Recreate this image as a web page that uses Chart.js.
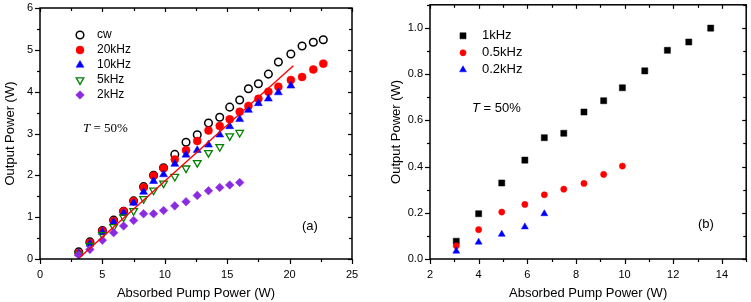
<!DOCTYPE html>
<html>
<head>
<meta charset="utf-8">
<script src="https://cdn.jsdelivr.net/npm/chart.js@4.4.1/dist/chart.umd.min.js"></script>
<style>
  body { margin: 0; background: #fff; }
  #boxA { position: absolute; left: 0; top: 0; width: 385px; height: 302px; }
  #boxB { position: absolute; left: 385px; top: 0; width: 366px; height: 302px; }
</style>
</head>
<body>
<div id="boxA"><canvas id="grafA" width="385" height="302"></canvas></div>
<div id="boxB"><canvas id="grafB" width="366" height="302"></canvas></div>
<script>
// panel (a): absorbed pump power and output power for each repetition rate
const pumpA = [3.1, 4.0, 5.0, 5.9, 6.7, 7.5, 8.3, 9.1, 9.9, 10.8, 11.7, 12.6, 13.5, 14.4, 15.2, 16.0, 16.7, 17.5, 18.3, 19.1, 20.1, 21.0, 21.9, 22.7];
const cwA = [0.17, 0.41, 0.68, 0.93, 1.14, 1.39, 1.73, 2.00, 2.18, 2.50, 2.79, 2.97, 3.25, 3.39, 3.63, 3.80, 4.07, 4.19, 4.42, 4.71, 4.90, 5.09, 5.18, 5.24];
const k20A = [0.14, 0.39, 0.67, 0.91, 1.14, 1.38, 1.71, 1.99, 2.17, 2.38, 2.60, 2.82, 3.07, 3.18, 3.34, 3.52, 3.66, 3.83, 4.00, 4.12, 4.28, 4.35, 4.53, 4.67];
const k10A = [0.13, 0.36, 0.64, 0.88, 1.10, 1.34, 1.60, 1.86, 2.02, 2.27, 2.49, 2.60, 2.73, 2.97, 3.17, 3.34, 3.56, 3.72, 3.83, 3.98, 4.14];
const k5A = [0.11, 0.32, 0.58, 0.77, 1.00, 1.15, 1.44, 1.64, 1.81, 1.97, 2.17, 2.30, 2.54, 2.68, 2.94, 3.02];
const k2A = [0.10, 0.23, 0.45, 0.63, 0.79, 0.92, 1.08, 1.08, 1.16, 1.27, 1.37, 1.52, 1.63, 1.71, 1.77, 1.83];
const fitX = [3.2, 20.3];
const fitY = [0.04, 4.62];
const xTicksA = [0, 5, 10, 15, 20, 25];
const yTicksA = [0, 1, 2, 3, 4, 5, 6];

// panel (b): low repetition rates
const pumpB = [3.08, 4.0, 4.95, 5.9, 6.7, 7.5, 8.33, 9.14, 9.91, 10.83, 11.76, 12.64, 13.54];
const k1B = [0.077, 0.196, 0.329, 0.428, 0.525, 0.544, 0.636, 0.685, 0.741, 0.814, 0.903, 0.939, 0.999];
const k05B = [0.057, 0.127, 0.203, 0.236, 0.278, 0.302, 0.327, 0.366, 0.402];
const k02B = [0.034, 0.073, 0.107, 0.139, 0.196];
const xTicksB = [2, 4, 6, 8, 10, 12, 14];
const yTicksB = [0, 0.2, 0.4, 0.6, 0.8, 1.0];

const sans = "'Liberation Sans', Arial, sans-serif";
const serif = "'Liberation Serif', 'Times New Roman', serif";

function punti(xs, ys) {
  return ys.map((y, i) => ({ x: xs[i], y: y }));
}

// box around the plot with ticks on all four sides
const cornice = {
  id: 'cornice',
  afterDatasetsDraw(chart, args, o) {
    const { ctx, chartArea: a, scales: { x, y } } = chart;
    ctx.save();
    ctx.strokeStyle = '#000';
    ctx.lineWidth = 1.2;
    const seg = (x1, y1, x2, y2) => { ctx.beginPath(); ctx.moveTo(x1, y1); ctx.lineTo(x2, y2); ctx.stroke(); };
    const n = Math.round((x.max - x.min) / o.xMinor);
    for (let i = 0; i <= n; i++) {
      const v = x.min + i * o.xMinor;
      const px = Math.round(x.getPixelForValue(v)) + 0.5;
      const big = Math.abs(v / o.xMajor - Math.round(v / o.xMajor)) < 1e-6;
      seg(px, a.bottom, px, a.bottom + (big ? 5 : 3));
      seg(px, a.top, px, a.top + (big ? 4 : 3));
    }
    const m = Math.round((y.max - y.min) / o.yMinor);
    for (let i = 0; i <= m; i++) {
      const v = y.min + i * o.yMinor;
      const py = Math.round(y.getPixelForValue(v)) + 0.5;
      const big = Math.abs(v / o.yMajor - Math.round(v / o.yMajor)) < 1e-6;
      seg(a.left, py, a.left - (big ? 5 : 3), py);
      seg(a.right, py, a.right - (big ? 4 : 3), py);
    }
    ctx.lineWidth = 1.5;
    ctx.strokeRect(a.left, a.top, a.right - a.left, a.bottom - a.top);
    ctx.restore();
  }
};

// legend and notes inside the plot
const note = {
  id: 'note',
  afterDraw(chart, args, o) {
    const { ctx, chartArea: a } = chart;
    ctx.save();
    let row = 0;
    chart.data.datasets.forEach(ds => {
      if (ds.nolegend) return;
      const yy = a.top + o.legTop + row * o.legStep;
      const xx = a.left + o.legX;
      ctx.fillStyle = ds.backgroundColor;
      ctx.strokeStyle = ds.borderColor;
      ctx.lineWidth = ds.borderWidth;
      Chart.helpers.drawPoint(ctx, { pointStyle: ds.pointStyle, rotation: ds.pointRotation || 0, radius: ds.pointRadius, borderWidth: ds.borderWidth }, xx, yy);
      ctx.fillStyle = '#000';
      ctx.font = o.legFont;
      ctx.textBaseline = 'middle';
      ctx.textAlign = 'left';
      ctx.fillText(ds.label, xx + o.legText, yy);
      row++;
    });
    // T = 50%
    ctx.textBaseline = 'middle';
    ctx.fillStyle = '#000';
    let tx = a.left + o.tX;
    const ty = a.top + o.tY;
    ctx.font = 'italic ' + o.tFont;
    ctx.fillText('T', tx, ty);
    tx += ctx.measureText('T').width;
    ctx.font = o.tFont;
    ctx.fillText(' = 50%', tx, ty);
    ctx.font = '13px ' + sans;
    ctx.fillText(o.tag, a.left + o.tagX, a.top + o.tagY);
    ctx.restore();
  }
};

function assi(xmin, xmax, xt, ymin, ymax, yt, ywidth, ytitlePad, fmt) {
  return {
    x: {
      type: 'linear', min: xmin, max: xmax,
      grid: { display: false, drawTicks: false }, border: { display: false },
      afterBuildTicks: s => { s.ticks = xt.map(v => ({ value: v })); },
      afterFit: s => { s.height = 43; s.paddingLeft = 0; s.paddingRight = 0; },
      ticks: { color: '#000', padding: 9, font: { family: sans, size: 11 } },
      title: { display: true, text: 'Absorbed Pump Power (W)', color: '#000', font: { family: sans, size: 13 }, padding: { top: 0, bottom: 1 } }
    },
    y: {
      type: 'linear', min: ymin, max: ymax,
      grid: { display: false, drawTicks: false }, border: { display: false },
      afterBuildTicks: s => { s.ticks = yt.map(v => ({ value: v })); },
      afterFit: s => { s.width = ywidth; s.paddingTop = 0; s.paddingBottom = 0; },
      ticks: { color: '#000', padding: 7, font: { family: sans, size: 11 }, callback: fmt },
      title: { display: true, text: 'Output Power (W)', color: '#000', font: { family: sans, size: 13 }, padding: { top: ytitlePad, bottom: 0 } }
    }
  };
}

new Chart(document.getElementById('grafA').getContext('2d'), {
  type: 'scatter',
  data: {
    datasets: [
      { label: 'cw', data: punti(pumpA, cwA), pointStyle: 'circle', pointRadius: 3.8, borderWidth: 1.5, borderColor: '#000', backgroundColor: 'rgba(255,255,255,0)', order: 5 },
      { label: '20kHz', data: punti(pumpA, k20A), pointStyle: 'circle', pointRadius: 4, borderWidth: 0.5, borderColor: '#ff0000', backgroundColor: '#ff0000', order: 4 },
      { label: '10kHz', data: punti(pumpA, k10A), pointStyle: 'triangle', pointRadius: 4.6, borderWidth: 0.5, borderColor: '#0000ff', backgroundColor: '#0000ff', order: 3 },
      { label: '5kHz', data: punti(pumpA, k5A), pointStyle: 'triangle', pointRotation: 180, pointRadius: 4.4, borderWidth: 1.3, borderColor: '#008000', backgroundColor: 'rgba(255,255,255,0)', order: 2 },
      { label: '2kHz', data: punti(pumpA, k2A), pointStyle: 'rectRot', pointRadius: 4.3, borderWidth: 0.5, borderColor: '#8a2be2', backgroundColor: '#8a2be2', order: 1 },
      { label: 'fit', nolegend: true, type: 'line', data: punti(fitX, fitY), pointRadius: 0, borderWidth: 1.4, borderColor: '#ff0000', backgroundColor: '#ff0000', order: 0 }
    ]
  },
  options: {
    responsive: false, animation: false, devicePixelRatio: 1,
    layout: { padding: { left: 0, top: 8, right: 33, bottom: 0 } },
    scales: assi(0, 25, xTicksA, 0, 6, yTicksA, 40, 2.2, v => v),
    plugins: {
      legend: { display: false }, tooltip: { enabled: false },
      cornice: { xMinor: 2.5, xMajor: 5, yMinor: 0.5, yMajor: 1 },
      note: { legX: 40, legTop: 27, legStep: 15, legText: 17, legFont: '12px ' + sans,
              tX: 43, tY: 121, tFont: '13px ' + serif, tag: '(a)', tagX: 262, tagY: 218 }
    }
  },
  plugins: [cornice, note]
});

new Chart(document.getElementById('grafB').getContext('2d'), {
  type: 'scatter',
  data: {
    datasets: [
      { label: '1kHz', data: punti(pumpB, k1B), pointStyle: 'rect', pointRadius: 4.3, borderWidth: 0.5, borderColor: '#000', backgroundColor: '#000', order: 3 },
      { label: '0.5kHz', data: punti(pumpB, k05B), pointStyle: 'circle', pointRadius: 3.1, borderWidth: 0.5, borderColor: '#ff0000', backgroundColor: '#ff0000', order: 2 },
      { label: '0.2kHz', data: punti(pumpB, k02B), pointStyle: 'triangle', pointRadius: 4, borderWidth: 0.5, borderColor: '#0000ff', backgroundColor: '#0000ff', order: 1 }
    ]
  },
  options: {
    responsive: false, animation: false, devicePixelRatio: 1,
    layout: { padding: { left: 0, top: 3, right: 2, bottom: 0 } },
    scales: assi(2, 15, xTicksB, 0, 1.1, yTicksB, 45, 3.2, v => v.toFixed(1)),
    plugins: {
      legend: { display: false }, tooltip: { enabled: false },
      cornice: { xMinor: 1, xMajor: 2, yMinor: 0.1, yMajor: 0.2 },
      note: { legX: 33, legTop: 31, legStep: 17, legText: 19, legFont: '13px ' + sans,
              tX: 42, tY: 104, tFont: '13px ' + sans, tag: '(b)', tagX: 268, tagY: 220 }
    }
  },
  plugins: [cornice, note]
});
</script>
</body>
</html>
